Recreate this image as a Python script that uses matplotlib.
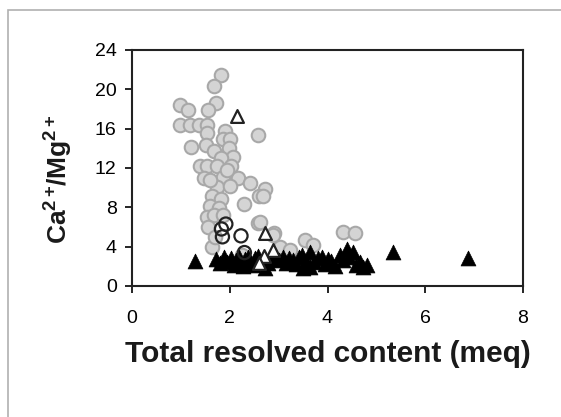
import matplotlib
matplotlib.use("Agg")
import matplotlib.pyplot as plt
from matplotlib.patches import Rectangle

plt.rcParams['font.family'] = ['Liberation Sans', 'DejaVu Sans']
plt.rcParams['mathtext.fontset'] = 'custom'
plt.rcParams['mathtext.rm'] = 'Liberation Sans'
plt.rcParams['mathtext.bf'] = 'Liberation Sans:bold'
plt.rcParams['mathtext.it'] = 'Liberation Sans:italic'

# Grey filled circles
grey_x = [1.83, 1.68, 0.98, 1.15, 1.71, 1.56, 0.98, 1.19, 1.38, 1.54, 1.90, 2.57, 1.54,
          1.87, 2.00, 1.21, 1.51, 1.68, 1.98, 2.07, 1.83, 1.39, 1.54, 1.73, 2.02, 1.48,
          1.87, 2.17, 2.41, 1.73, 2.00, 2.73, 2.60, 1.63, 1.82, 2.30, 1.60, 1.79, 1.54,
          1.67, 1.87, 1.56, 2.58, 2.90, 1.63, 4.32, 4.56, 3.54, 3.71, 3.03, 3.23, 2.62,
          2.68, 2.89, 1.70, 1.95, 1.60, 2.25]
grey_y = [21.5, 20.3, 18.4, 17.9, 18.6, 17.9, 16.4, 16.4, 16.4, 16.4, 15.8, 15.4, 15.6,
          14.9, 15.0, 14.1, 14.3, 13.7, 14.0, 13.1, 13.0, 12.2, 12.2, 12.2, 12.2, 11.0,
          11.1, 11.0, 10.5, 10.1, 10.2, 9.9, 9.2, 9.2, 8.8, 8.3, 8.1, 7.9, 7.05,
          7.2, 7.2, 6.0, 6.4, 5.4, 4.0, 5.5, 5.4, 4.7, 4.2, 4.0, 3.7, 6.5,
          9.2, 5.2, 5.0, 11.8, 10.8, 3.2]

# Open circles
oc_x = [1.92, 1.83, 1.85, 2.23, 2.30]
oc_y = [6.3, 5.8, 5.0, 5.1, 3.4]

# Open triangles
ot_x = [2.15, 2.73, 2.89, 2.71, 2.60]
ot_y = [17.3, 5.4, 3.7, 3.1, 2.3]

# Black filled triangles
bt_x = [1.29, 1.72, 1.80, 1.88, 1.95, 2.02, 2.08, 2.12, 2.18, 2.22, 2.28, 2.32, 2.38,
        2.42, 2.48, 2.52, 2.58, 2.65, 2.72, 2.78, 2.85, 2.92, 3.00, 3.09, 3.15, 3.22,
        3.29, 3.36, 3.42, 3.47, 3.50, 3.56, 3.64, 3.64, 3.72, 3.80, 3.88, 3.95, 4.02,
        4.08, 4.15, 4.25, 4.32, 4.39, 4.45, 4.53, 4.59, 4.66, 4.72, 4.80, 5.33, 6.88]
bt_y = [2.5, 2.7, 2.3, 2.9, 2.4, 2.8, 2.1, 2.6, 2.9, 2.3, 2.0, 2.7, 3.0,
        2.4, 2.1, 2.8, 3.1, 2.5, 1.8, 2.3, 2.8, 3.1, 2.6, 3.0, 2.3, 2.8,
        2.6, 2.2, 2.9, 3.2, 1.8, 2.5, 3.5, 1.9, 2.4, 2.8, 3.0, 2.2, 2.7,
        2.5, 2.0, 3.2, 2.6, 3.8, 3.0, 3.5, 2.1, 2.4, 1.9, 2.1, 3.5, 2.8]

x_ticks = [0, 2, 4, 6, 8]
y_ticks = [0, 4, 8, 12, 16, 20, 24]

fig = plt.figure(figsize=(5.61, 4.17), dpi=100)
ax = fig.add_axes([132 / 561, 1 - 286 / 417, 391 / 561, 236 / 417])

ax.scatter(grey_x, grey_y, s=95, marker='o', facecolor='#d4d4d4', edgecolor='#a8a8a8',
           linewidths=1.5, zorder=2)
ax.scatter(bt_x, bt_y, s=115, marker='^', facecolor='black', edgecolor='black',
           linewidths=0.5, zorder=3)
ax.scatter(oc_x, oc_y, s=90, marker='o', facecolor='none', edgecolor='#222222',
           linewidths=1.6, zorder=4)
ax.scatter(ot_x, ot_y, s=85, marker='^', facecolor='white', edgecolor='#222222',
           linewidths=1.6, zorder=4)

ax.set_xlim(0, 8)
ax.set_ylim(0, 24)
ax.set_xticks(x_ticks)
ax.set_yticks(y_ticks)
ax.tick_params(direction='out', length=5, width=1.2, labelsize=14, colors='black',
               pad=6)
ax.tick_params(axis='x', pad=12)
for sp in ax.spines.values():
    sp.set_linewidth(1.5)
    sp.set_color('#222222')

ax.set_xlabel('Total resolved content (meq)', fontsize=21.5, fontweight='bold',
              color='#1a1a1a')
ax.xaxis.set_label_coords(0.5, -0.23)
ax.set_ylabel(r'$\mathbf{Ca^{2+}\!/Mg^{2+}}$', fontsize=19, color='#1a1a1a')
ax.yaxis.set_label_coords(-0.145, 0.45)

fig.patches.append(Rectangle((8 / 561, -0.1), 1.2, 1 - 10 / 417 + 0.1,
                             transform=fig.transFigure, fill=False,
                             edgecolor='#b0b0b0', linewidth=1.2))

fig.savefig('out.png', dpi=100)
